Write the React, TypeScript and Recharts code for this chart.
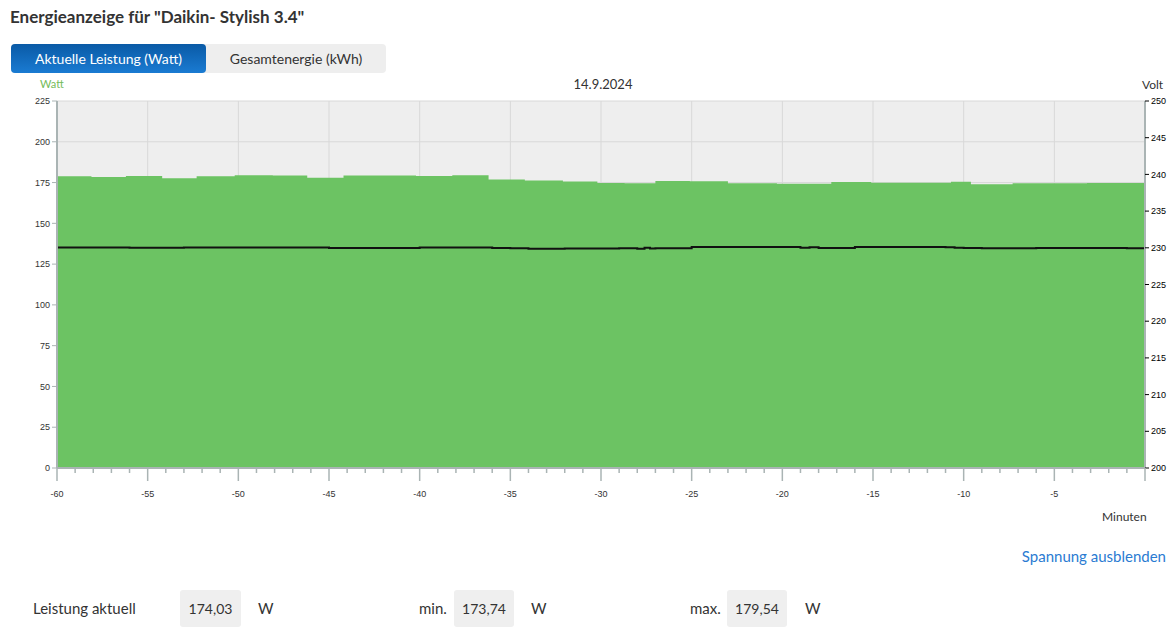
import { ComposedChart, Area, Line, XAxis, YAxis, CartesianGrid } from 'recharts';

// Leistung (W), Stufen ca. alle 2 Minuten
const powerMinutes = [-60, -58.1, -56.2, -54.2, -52.3, -50.2, -48.1, -46.2, -44.2, -42.2, -40.2, -38.2, -36.2, -34.2, -32.1, -30.2, -28.7, -27.0, -25.1, -23.0, -20.3, -17.3, -15.1, -10.7, -9.6, -7.3, -3.2, 0];
const powerWatt = [178.8, 178.4, 179.0, 177.7, 178.8, 179.5, 179.4, 178.0, 179.4, 179.3, 179.0, 179.5, 176.9, 176.3, 175.7, 174.8, 174.6, 175.9, 175.8, 174.5, 174.3, 175.3, 174.9, 175.5, 174.0, 174.6, 174.8, 174.03];

// Spannung (V), pro Minute
const voltMinutes = [-60, -59, -58, -57, -56, -55, -54, -53, -52, -51, -50, -49, -48, -47, -46, -45, -44, -43, -42, -41, -40, -39, -38, -37, -36, -35, -34, -33, -32, -31, -30, -29, -28, -27.6, -27.3, -27, -26, -25, -24, -23, -22, -21, -20, -19, -18.5, -18, -17, -16, -15, -14, -13, -12, -11, -10.5, -10, -9, -8, -7, -6, -5, -4, -3, -2, -1, 0];
const voltValues = [230.05, 230.05, 230.05, 230.05, 230.0, 230.0, 230.0, 230.05, 230.05, 230.05, 230.05, 230.05, 230.05, 230.05, 230.05, 229.97, 229.97, 229.97, 229.97, 229.97, 230.04, 230.04, 230.04, 230.04, 229.96, 229.95, 229.86, 229.86, 229.9, 229.9, 229.9, 229.93, 229.88, 230.02, 229.9, 229.93, 229.95, 230.1, 230.1, 230.1, 230.1, 230.1, 230.1, 230.0, 230.06, 229.96, 229.96, 230.1, 230.1, 230.1, 230.1, 230.1, 230.06, 230.02, 229.98, 229.95, 229.95, 229.95, 229.96, 229.96, 229.96, 229.96, 229.96, 229.95, 229.93];

const wattTicks = [0, 25, 50, 75, 100, 125, 150, 175, 200, 225];
const voltTicks = [200, 205, 210, 215, 220, 225, 230, 235, 240, 245, 250];
const minuteTicks = Array.from({ length: 61 }, (_, i) => i - 60);
const gridMinutes = [-55, -50, -45, -40, -35, -30, -25, -20, -15, -10, -5];

const powerData = powerMinutes.map((m, i) => ({ m, watt: powerWatt[i] }));
const voltData = voltMinutes.map((m, i) => ({ m, volt: voltValues[i] }));

const ui = "Lato, 'Open Sans', sans-serif";
const tickFont = "'Liberation Sans', Arial, sans-serif";

function MinuteTick(props: any) {
  const { x, y, payload } = props;
  const v = payload.value;
  const major = v % 5 === 0;
  return (
    <g>
      <line x1={x} x2={x} y1={y - 8} y2={y - 8 + (major ? 13 : 5)} stroke="#aab4b4" strokeWidth={1.5} />
      {major && v !== 0 && (
        <text x={x} y={y + 21} textAnchor="middle" fontSize={9} fill="#333" fontFamily={tickFont}>{v}</text>
      )}
    </g>
  );
}

export default function App() {
  return (
    <div style={{ position: 'relative', width: 1172, height: 632, background: '#fff', fontFamily: ui, color: '#333' }}>
      <style>{`body{margin:0}`}</style>
      <div style={{ position: 'absolute', left: 10, top: 6, fontSize: 17, fontWeight: 700, color: '#333' }}>
        Energieanzeige für "Daikin- Stylish 3.4"
      </div>
      <div style={{ position: 'absolute', left: 11, top: 44, width: 375, height: 29, borderRadius: 4, background: '#eeeeee', display: 'flex', fontSize: 14 }}>
        <div style={{ width: 195, height: 29, lineHeight: '29px', textAlign: 'center', color: '#fff', borderRadius: 4, background: 'linear-gradient(#0a5aa6, #1a7bd2)' }}>
          Aktuelle Leistung (Watt)
        </div>
        <div style={{ width: 180, height: 29, lineHeight: '29px', textAlign: 'center', color: '#333' }}>
          Gesamtenergie (kWh)
        </div>
      </div>
      <div style={{ position: 'absolute', left: 40, top: 77, fontSize: 11, color: '#74bb5a' }}>Watt</div>
      <div style={{ position: 'absolute', left: 0, width: 1206, top: 76, fontSize: 13, textAlign: 'center' }}>14.9.2024</div>
      <div style={{ position: 'absolute', left: 1142, top: 77, fontSize: 12 }}>Volt</div>

      <div style={{ position: 'absolute', left: 0, top: 0 }}>
        <ComposedChart width={1172} height={508} margin={{ top: 101, right: 1, bottom: 0, left: 0 }}>
          <CartesianGrid
            fill="#eeeeee"
            stroke="#d8d8d8"
            verticalValues={gridMinutes}
            horizontalValues={wattTicks}
            xAxisId="x"
            yAxisId="w"
          />
          <XAxis
            xAxisId="x"
            dataKey="m"
            type="number"
            domain={[-60, 0]}
            ticks={minuteTicks}
            interval={0}
            height={40}
            axisLine={{ stroke: '#aab4b4', strokeWidth: 2 }}
            tickLine={false}
            tick={<MinuteTick />}
            allowDuplicatedCategory={false}
          />
          <YAxis
            yAxisId="w"
            orientation="left"
            width={57}
            domain={[0, 225]}
            ticks={wattTicks}
            interval={0}
            axisLine={{ stroke: '#aab4b4', strokeWidth: 2 }}
            tickLine={{ stroke: '#aab4b4' }}
            tickSize={5}
            tick={{ fontSize: 9, fill: '#333', fontFamily: tickFont }}
          />
          <YAxis
            yAxisId="v"
            orientation="right"
            width={26}
            domain={[200, 250]}
            ticks={voltTicks}
            interval={0}
            axisLine={{ stroke: '#aab4b4', strokeWidth: 2 }}
            tickLine={{ stroke: '#000' }}
            tickSize={4}
            tick={{ fontSize: 9, fill: '#000', fontFamily: tickFont }}
          />
          <Area
            xAxisId="x"
            yAxisId="w"
            data={powerData}
            dataKey="watt"
            type="stepAfter"
            fill="#6cc363"
            fillOpacity={1}
            stroke="none"
            isAnimationActive={false}
          />
          <Line
            xAxisId="x"
            yAxisId="v"
            data={voltData}
            dataKey="volt"
            type="stepAfter"
            stroke="#111"
            strokeWidth={2}
            dot={false}
            isAnimationActive={false}
          />
        </ComposedChart>
      </div>

      <div style={{ position: 'absolute', left: 1102, top: 509, fontSize: 12 }}>Minuten</div>
      <div style={{ position: 'absolute', right: 6, top: 547, fontSize: 15, color: '#2a7bd2' }}>Spannung ausblenden</div>

      <div style={{ position: 'absolute', left: 33, top: 599, fontSize: 15 }}>Leistung aktuell</div>
      <div style={{ position: 'absolute', left: 180, top: 590, width: 61, height: 37, lineHeight: '37px', textAlign: 'center', background: '#efefef', borderRadius: 3, fontSize: 14 }}>174,03</div>
      <div style={{ position: 'absolute', left: 258, top: 599, fontSize: 15 }}>W</div>

      <div style={{ position: 'absolute', left: 419, top: 599, fontSize: 15 }}>min.</div>
      <div style={{ position: 'absolute', left: 454, top: 590, width: 60, height: 37, lineHeight: '37px', textAlign: 'center', background: '#efefef', borderRadius: 3, fontSize: 14 }}>173,74</div>
      <div style={{ position: 'absolute', left: 531, top: 599, fontSize: 15 }}>W</div>

      <div style={{ position: 'absolute', left: 690, top: 599, fontSize: 15 }}>max.</div>
      <div style={{ position: 'absolute', left: 727, top: 590, width: 60, height: 37, lineHeight: '37px', textAlign: 'center', background: '#efefef', borderRadius: 3, fontSize: 14 }}>179,54</div>
      <div style={{ position: 'absolute', left: 805, top: 599, fontSize: 15 }}>W</div>
    </div>
  );
}
